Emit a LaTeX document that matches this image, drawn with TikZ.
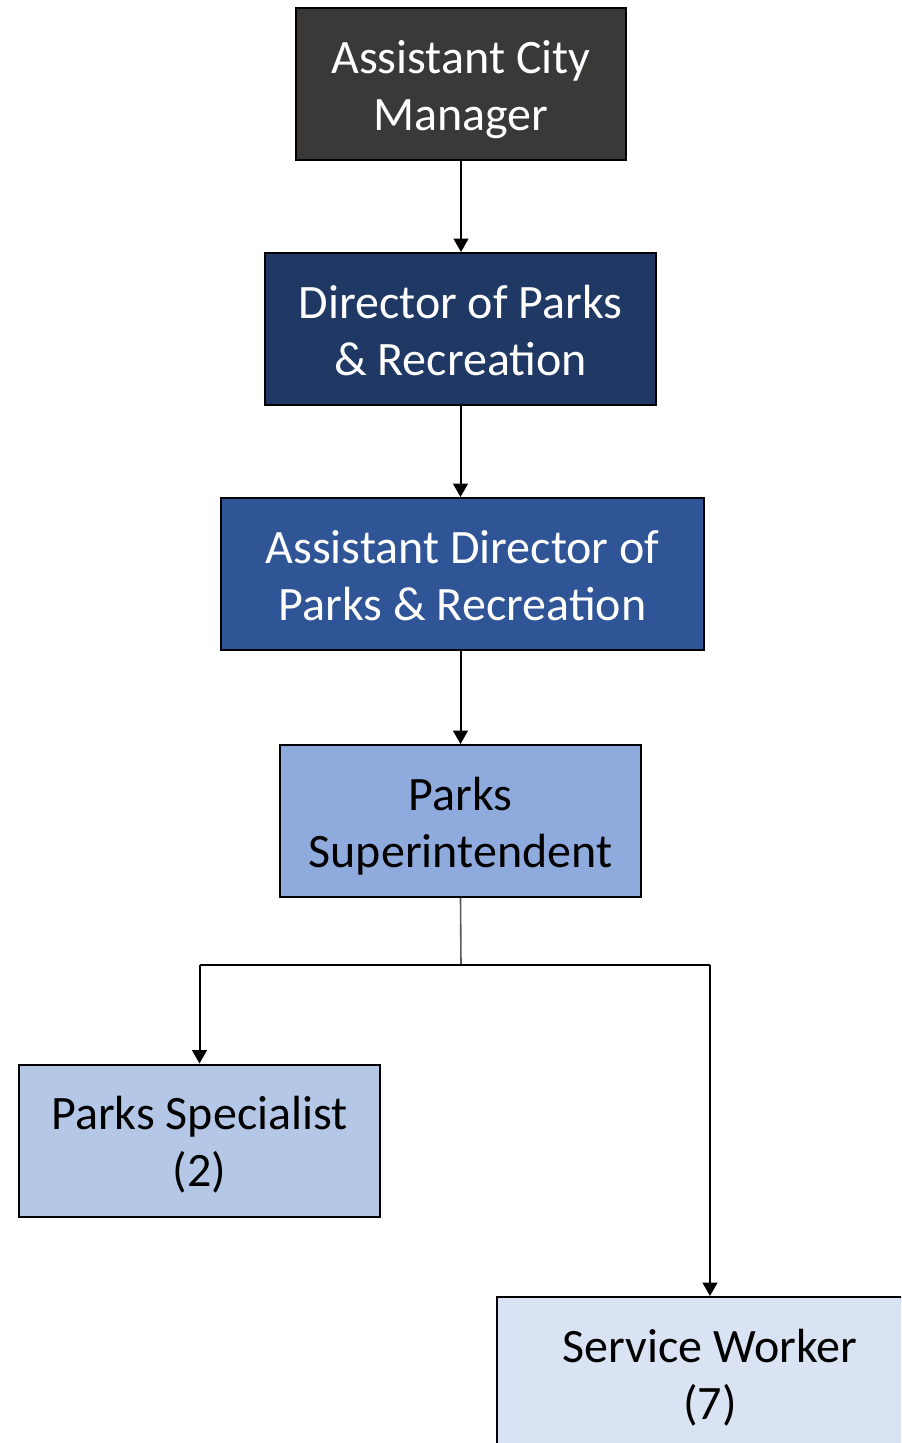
\documentclass[tikz,border=0pt]{standalone}
\usepackage{fontspec}
\setmainfont{Carlito}
\usetikzlibrary{arrows.meta}
\definecolor{acmgray}{HTML}{3B3838}
\definecolor{dirnavy}{HTML}{1F3864}
\definecolor{adirblue}{HTML}{2F5597}
\definecolor{supblue}{HTML}{8FAADC}
\definecolor{specblue}{HTML}{B4C7E7}
\definecolor{workblue}{HTML}{DAE3F3}
\begin{document}
\begin{tikzpicture}[x=0.75pt, y=-0.75pt,
    every node/.style={font=\fontsize{36}{42.75}\selectfont},
    box/.style={draw=black, line width=1.5pt, align=center, minimum height=114pt, inner sep=0pt,
        text height=75.75pt, text depth=6.75pt},
    link/.style={line width=1.5pt, -{Triangle[width=11pt,length=10pt]}}]
    \useasboundingbox (0,0) rectangle (901,1443);
    \clip (0,0) rectangle (901,1443);

    % boxes
    \node[box, fill=acmgray, text=white, minimum width=247.5pt] (acm) at (461,84) {Assistant City\\Manager};
    \node[box, fill=dirnavy, text=white, minimum width=293.25pt] (dir) at (460.5,329) {Director of Parks\\\& Recreation};
    \node[box, fill=adirblue, text=white, minimum width=362.25pt] (adir) at (462.5,574) {Assistant Director of\\Parks \& Recreation};
    \node[box, fill=supblue, minimum width=270.75pt] (sup) at (460.5,821) {Parks\\Superintendent};
    \node[box, fill=specblue, minimum width=270.75pt] (spec) at (199.5,1140.5) {Parks Specialist\\(2)};
    \node[box, fill=workblue, minimum width=319.5pt] (work) at (710,1373) {Service Worker\\(7)};

    % connectors
    \draw[link] (acm.south) -- (acm.south |- dir.north);
    \draw[link] (dir.south) -- (dir.south |- adir.north);
    \draw[link] (sup.north |- adir.south) -- (sup.north);

    \coordinate (split) at (461,965);
    \draw[black!65, line width=1.2pt] (sup.south) -- (split);
    \draw[line width=1.1pt] (split -| spec) -- (split -| work);
    \draw[link] (split -| spec) -- (spec.north);
    \draw[link] (split -| work) -- (work.north);
\end{tikzpicture}
\end{document}
